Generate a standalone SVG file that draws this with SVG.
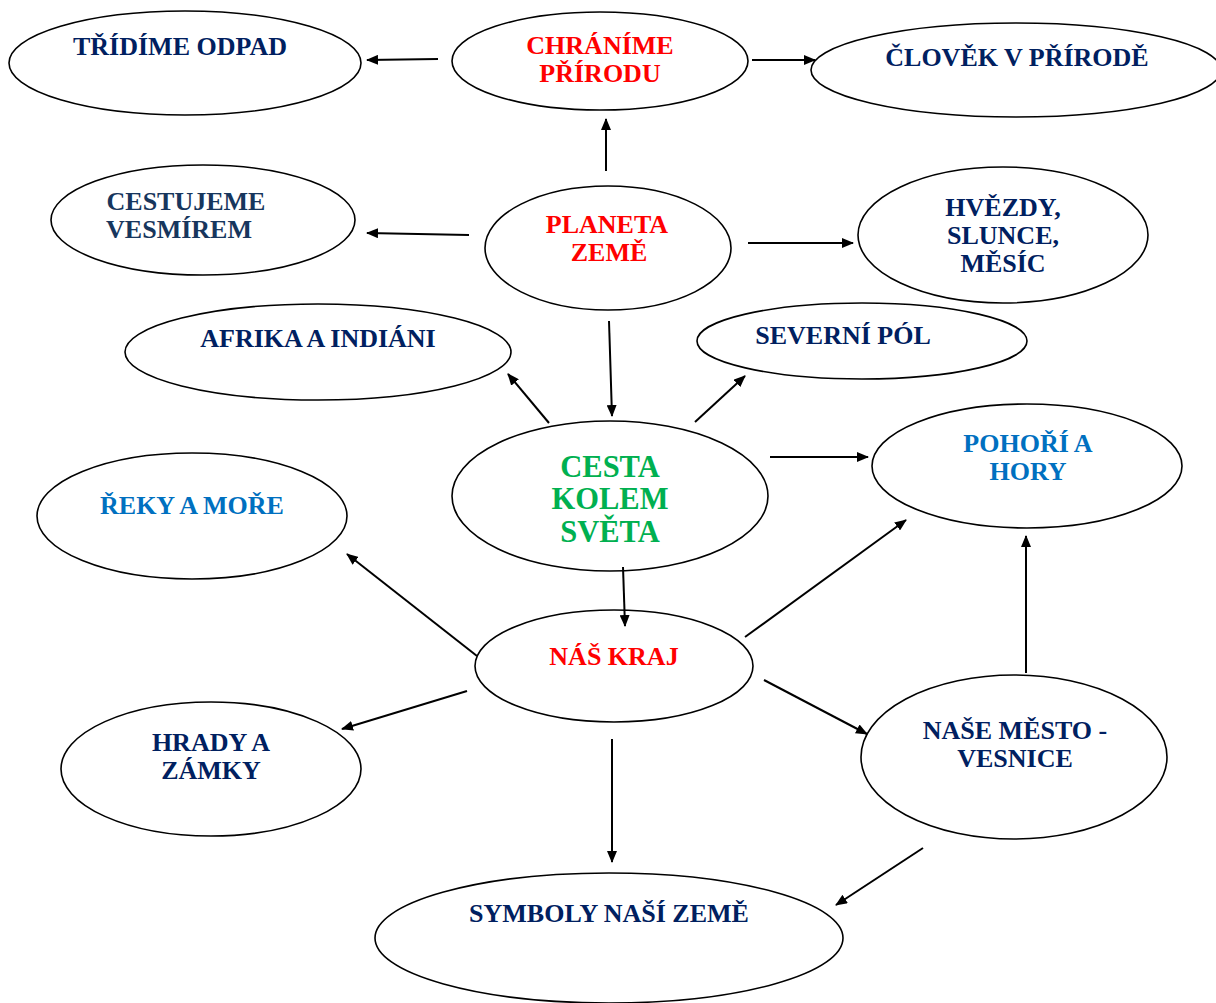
<svg xmlns="http://www.w3.org/2000/svg" width="1216" height="1003" viewBox="0 0 1216 1003">
<style>
.n ellipse{fill:#fff;stroke:#000;stroke-width:1.6}
text{font-family:"Liberation Serif","Times New Roman",serif;font-weight:bold;font-size:26px;text-anchor:middle}
.navy{fill:#002060}
.red{fill:#ff0000}
.blue{fill:#0070c0}
.green{fill:#00b050;font-size:30.5px}
.c line{stroke:#000;stroke-width:2;marker-end:url(#ah)}
</style>
<defs>
<marker id="ah" markerWidth="12" markerHeight="10" refX="11" refY="5" orient="auto" markerUnits="userSpaceOnUse">
<path d="M0,0 L12,5 L0,10 Z" fill="#000"/>
</marker>
</defs>
<rect width="1216" height="1003" fill="#fff"/>
<g class="n" id="tridime"><ellipse cx="185" cy="63" rx="176" ry="52"/><text class="navy" x="180" y="55">TŘÍDÍME ODPAD</text></g>
<g class="n" id="chranime"><ellipse cx="600" cy="61" rx="148" ry="49"/><text class="red" x="600" y="54">CHRÁNÍME</text><text class="red" x="600" y="82">PŘÍRODU</text></g>
<g class="n" id="clovek"><ellipse cx="1016" cy="70" rx="205" ry="47"/><text class="navy" x="1017" y="66">ČLOVĚK V PŘÍRODĚ</text></g>
<g class="n" id="cestujeme"><ellipse cx="203" cy="220" rx="152" ry="55"/><text x="186" y="210" fill="#17365d">CESTUJEME</text><text x="179" y="238" fill="#17365d">VESMÍREM</text></g>
<g class="n" id="planeta"><ellipse cx="608" cy="248" rx="123" ry="62"/><text class="red" x="607" y="233">PLANETA</text><text class="red" x="609" y="261">ZEMĚ</text></g>
<g class="n" id="hvezdy"><ellipse cx="1003" cy="235" rx="145" ry="68"/><text class="navy" x="1003" y="216">HVĚZDY,</text><text class="navy" x="1003" y="244">SLUNCE,</text><text class="navy" x="1003" y="272">MĚSÍC</text></g>
<g class="n" id="afrika"><ellipse cx="318" cy="352" rx="193" ry="48"/><text class="navy" x="318" y="347">AFRIKA A INDIÁNI</text></g>
<g class="n" id="severni"><ellipse cx="862" cy="341" rx="165" ry="38"/><text class="navy" x="843" y="344">SEVERNÍ PÓL</text></g>
<g class="n" id="cesta"><ellipse cx="610" cy="496" rx="158" ry="75"/><text class="green" x="610" y="477">CESTA</text><text class="green" x="610" y="509">KOLEM</text><text class="green" x="610" y="542">SVĚTA</text></g>
<g class="n" id="pohori"><ellipse cx="1027" cy="466" rx="155" ry="62"/><text class="blue" x="1028" y="452">POHOŘÍ A</text><text class="blue" x="1028" y="480">HORY</text></g>
<g class="n" id="reky"><ellipse cx="192" cy="516" rx="155" ry="63"/><text class="blue" x="192" y="514">ŘEKY A MOŘE</text></g>
<g class="n" id="naskraj"><ellipse cx="614" cy="666" rx="139" ry="56"/><text class="red" x="614" y="665">NÁŠ KRAJ</text></g>
<g class="n" id="hrady"><ellipse cx="211" cy="769" rx="150" ry="67"/><text class="navy" x="211" y="751">HRADY A</text><text class="navy" x="211" y="779">ZÁMKY</text></g>
<g class="n" id="mesto"><ellipse cx="1014" cy="757" rx="153" ry="82"/><text class="navy" x="1015" y="739">NAŠE MĚSTO -</text><text class="navy" x="1015" y="767">VESNICE</text></g>
<g class="n" id="symboly"><ellipse cx="609" cy="938" rx="234" ry="65"/><text class="navy" x="609" y="922">SYMBOLY NAŠÍ ZEMĚ</text></g>
<g class="c" id="connectors">
<line x1="438" y1="59" x2="367" y2="60"/>
<line x1="606" y1="171" x2="606" y2="119"/>
<line x1="752" y1="60" x2="815" y2="60"/>
<line x1="469" y1="235" x2="367" y2="233"/>
<line x1="748" y1="243" x2="853" y2="243"/>
<line x1="609" y1="321" x2="612" y2="416"/>
<line x1="549" y1="423" x2="508" y2="374"/>
<line x1="695" y1="422" x2="745" y2="376"/>
<line x1="770" y1="457" x2="868" y2="457"/>
<line x1="623" y1="567" x2="625" y2="626"/>
<line x1="477" y1="656" x2="347" y2="554"/>
<line x1="745" y1="637" x2="906" y2="520"/>
<line x1="1026" y1="673" x2="1026" y2="536"/>
<line x1="467" y1="691" x2="342" y2="729"/>
<line x1="764" y1="680" x2="867" y2="734"/>
<line x1="612" y1="739" x2="612" y2="862"/>
<line x1="923" y1="848" x2="836" y2="905"/>
</g>
</svg>
